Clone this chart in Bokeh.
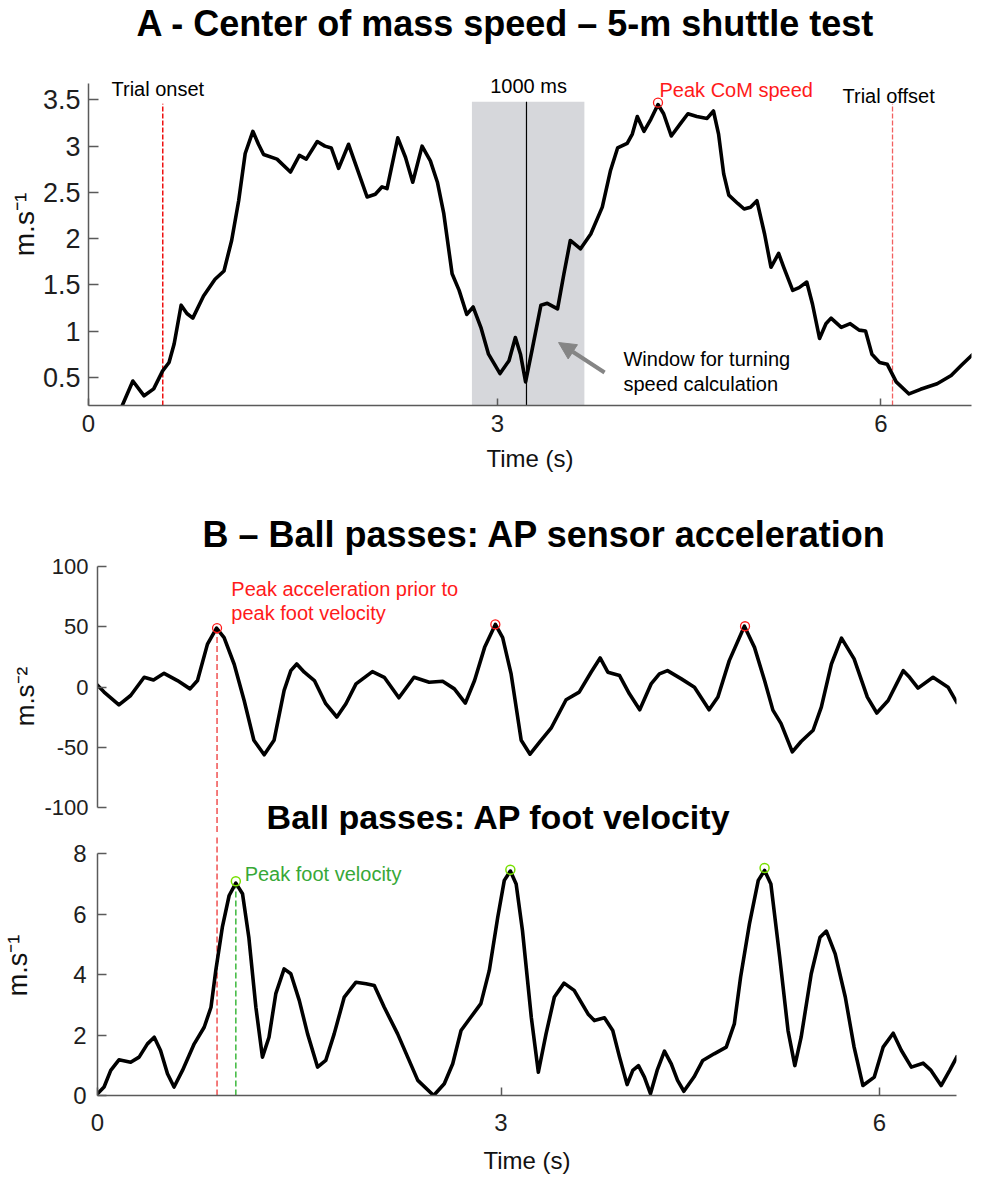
from bokeh.plotting import figure
from bokeh.layouts import column
from bokeh.models import Range1d, FixedTicker, Label, Arrow, NormalHead
from bokeh.embed import file_html
from bokeh.resources import INLINE

FONT = "Liberation Sans"
AX = "#5a5a5a"

# ---------------- data: panel A (centre of mass speed) ----------------
com_t = [0.05, 0.147, 0.235, 0.31, 0.38, 0.43, 0.47, 0.525, 0.57, 0.616, 0.70, 0.79, 0.86, 0.92,
         0.975, 1.026, 1.086, 1.13, 1.17, 1.275, 1.38, 1.45, 1.504, 1.59, 1.65, 1.70, 1.757, 1.835,
         1.888, 1.98, 2.044, 2.097, 2.136, 2.22, 2.28, 2.337, 2.41, 2.475, 2.53, 2.58, 2.645, 2.70,
         2.76, 2.81, 2.87, 2.93, 3.02, 3.09, 3.14, 3.18, 3.22, 3.27, 3.34, 3.39, 3.47, 3.52, 3.57,
         3.65, 3.73, 3.82, 3.885, 3.94, 4.015, 4.055, 4.094, 4.146, 4.2, 4.256, 4.30, 4.36, 4.43,
         4.49, 4.56, 4.64, 4.69, 4.73, 4.77, 4.81, 4.88, 4.93, 4.98, 5.03, 5.09, 5.14, 5.20, 5.24,
         5.31, 5.36, 5.42, 5.465, 5.52, 5.57, 5.61, 5.69, 5.76, 5.83, 5.88, 5.93, 5.99, 6.05, 6.12,
         6.22, 6.31, 6.44, 6.55, 6.63, 6.72]
com_v = [0.15, 0.46, 0.30, 0.375, 0.57, 0.66, 0.86, 1.28, 1.19, 1.14, 1.38, 1.56, 1.65, 1.98,
         2.41, 2.92, 3.16, 3.02, 2.91, 2.86, 2.72, 2.90, 2.86, 3.05, 3.00, 2.98, 2.76, 3.02,
         2.81, 2.45, 2.48, 2.56, 2.54, 3.09, 2.88, 2.61, 3.00, 2.84, 2.61, 2.27, 1.62, 1.44,
         1.18, 1.26, 1.04, 0.75, 0.54, 0.68, 0.93, 0.75, 0.45, 0.79, 1.28, 1.30, 1.24, 1.62, 1.98,
         1.89, 2.05, 2.34, 2.74, 2.98, 3.03, 3.13, 3.32, 3.16, 3.29, 3.45, 3.35, 3.11, 3.24,
         3.35, 3.32, 3.30, 3.38, 3.13, 2.70, 2.47, 2.38, 2.32, 2.34, 2.41, 2.05, 1.69, 1.84, 1.69,
         1.44, 1.47, 1.53, 1.29, 0.92, 1.08, 1.14, 1.04, 1.08, 1.01, 1.00, 0.75, 0.66, 0.64, 0.45,
         0.32, 0.37, 0.43, 0.52, 0.63, 0.75]
com_peak_t = [4.256]
com_peak_v = [3.47]
trial_onset_t = 0.381
trial_offset_t = 6.091
window_start = 2.80
window_end = 3.68
window_top = 3.48
turn_t = 3.227

# ---------------- data: panel B (AP sensor acceleration) ----------------
acc_t = [-0.206, -0.148, -0.03, 0.063, 0.17, 0.244, 0.328, 0.434, 0.534, 0.593, 0.672, 0.744,
         0.804, 0.884, 0.963, 1.04, 1.122, 1.20, 1.28, 1.333, 1.38, 1.44, 1.52, 1.61, 1.698, 1.77,
         1.85, 1.98, 2.074, 2.19, 2.31, 2.43, 2.537, 2.63, 2.717, 2.79, 2.87, 2.955, 3.013, 3.08,
         3.16, 3.23, 3.317, 3.397, 3.516, 3.62, 3.714, 3.786, 3.847, 3.94, 4.018, 4.10, 4.19,
         4.256, 4.32, 4.43, 4.534, 4.65, 4.72, 4.81, 4.93, 5.01, 5.09, 5.156, 5.22, 5.31, 5.38,
         5.475, 5.54, 5.62, 5.70, 5.80, 5.905, 5.98, 6.07, 6.19, 6.24, 6.307, 6.426, 6.545, 6.62]
acc_v = [2.2, -4.0, -14.6, -6.9, 8.2, 6.0, 11.5, 5.5, -1.4, 5.5, 35.7, 48.9,
         41.0, 19.0, -11.0, -44.0, -56.0, -44.0, -2.7, 13.7, 19.2, 12.4, 5.5, -13.7, -24.7, -13.7,
         2.7, 12.9, 8.2, -8.8, 8.2, 4.1, 4.9, -1.4, -13.2, 5.5, 33.0, 52.0, 41.0, 11.0,
         -44.0, -55.5, -44.0, -34.0, -10.4, -4.1, 12.4, 24.2, 12.4, 9.6, -5.5, -18.7, 2.7,
         11.0, 13.7, 6.9, 0.0, -18.7, -8.2, 22.0, 50.5, 33.0, 5.5, -19.0, -30.0, -53.6, -45.0,
         -35.7, -16.5, 19.2, 40.7, 23.4, -8.2, -21.4, -11.0, 13.7, 8.2, -0.8, 8.2, 0.0, -13.7]
acc_peak_t = [0.748, 2.955, 4.935]
acc_peak_v = [49.0, 52.0, 50.5]

# ---------------- data: panel B (AP foot velocity) ----------------
vel_t = [-0.206, -0.148, -0.095, -0.03, 0.063, 0.13, 0.196, 0.25, 0.30, 0.355, 0.407, 0.474,
         0.567, 0.646, 0.70, 0.738, 0.79, 0.844, 0.897, 0.95, 1.0, 1.056, 1.108, 1.16, 1.214,
         1.28, 1.333, 1.40, 1.466, 1.545, 1.61, 1.677, 1.757, 1.85, 1.93, 1.995, 2.074, 2.18,
         2.26, 2.34, 2.466, 2.55, 2.617, 2.683, 2.76, 2.84, 2.907, 2.974, 3.026, 3.074, 3.12,
         3.17, 3.24, 3.296, 3.357, 3.423, 3.50, 3.58, 3.69, 3.74, 3.82, 3.886, 3.94, 4.0, 4.045,
         4.09, 4.137, 4.185, 4.238, 4.296, 4.35, 4.40, 4.45, 4.53, 4.60, 4.69, 4.786, 4.85, 4.90,
         4.97, 5.04, 5.09, 5.14, 5.21, 5.276, 5.33, 5.38, 5.46, 5.53, 5.58, 5.65, 5.73, 5.80,
         5.87, 5.96, 6.03, 6.11, 6.175, 6.254, 6.347, 6.41, 6.49, 6.56, 6.62]
vel_v = [0.03, 0.28, 0.83, 1.18, 1.10, 1.27, 1.71, 1.93, 1.49, 0.72, 0.28, 0.83,
         1.71, 2.26, 2.92, 4.14, 5.57, 6.62, 7.03, 6.68, 5.24, 2.92, 1.27, 1.93, 3.37,
         4.19, 4.03, 3.15, 2.04, 0.94, 1.16, 2.04, 3.26, 3.75, 3.70, 3.64, 2.92, 2.04,
         1.27, 0.50, 0.0, 0.39, 1.05, 2.15, 2.59, 3.04, 4.14, 5.90, 7.12, 7.43, 7.00,
         5.46, 2.59, 0.77, 2.04, 3.26, 3.72, 3.48, 2.70, 2.48, 2.57, 2.15, 1.27, 0.36, 0.83,
         0.99, 0.61, 0.06, 0.83, 1.47, 1.05, 0.50, 0.14, 0.61, 1.16, 1.38, 1.60, 2.37, 3.92,
         5.68, 7.12, 7.45, 7.00, 4.58, 2.15, 0.99, 1.93, 4.03, 5.24, 5.44, 4.69, 3.26, 1.60,
         0.33, 0.61, 1.60, 2.06, 1.49, 0.94, 1.07, 0.83, 0.33, 0.85, 1.32]
vel_peak_t = [0.897, 3.074, 5.09]
vel_peak_v = [7.09, 7.47, 7.53]

# ---------------- axes ticks ----------------
x_ticks = [-0.2, 3, 6]
x_tick_labels = ["0", "3", "6"]
com_ticks = [0.5, 1, 1.5, 2, 2.5, 3, 3.5]
acc_ticks = [-100, -50, 0, 50, 100]
vel_ticks = [0, 2, 4, 6, 8]


def style(p):
    p.outline_line_color = None
    p.grid.visible = False
    p.background_fill_color = "white"
    p.border_fill_color = "white"
    for ax in p.axis:
        ax.axis_line_color = AX
        ax.axis_line_width = 1.5
        ax.major_tick_line_color = AX
        ax.major_tick_line_width = 1.5
        ax.minor_tick_line_color = None
        ax.major_tick_out = 0
        ax.major_label_text_font = FONT
        ax.major_label_text_color = "#1e1e1e"
        ax.axis_label_text_font = FONT
        ax.axis_label_text_font_style = "normal"
        ax.axis_label_text_color = "#111111"


def set_title(p, text, size, offset, standoff):
    p.title.text = text
    p.title.text_font = FONT
    p.title.text_font_size = size
    p.title.text_font_style = "bold"
    p.title.text_color = "black"
    p.title.align = "left"
    p.title.offset = offset
    p.title.standoff = standoff


def set_xaxis(p, tick_in, standoff, label_standoff):
    ax = p.xaxis[0]
    ax.ticker = FixedTicker(ticks=x_ticks)
    ax.major_label_overrides = dict(zip(x_ticks, x_tick_labels))
    ax.major_tick_in = tick_in
    ax.major_label_standoff = standoff
    ax.major_label_text_font_size = "24px"
    ax.axis_label = "Time (s)"
    ax.axis_label_text_font_size = "24px"
    ax.axis_label_standoff = label_standoff


def note(p, txt, x, y, color="black", size="20px", align="left", bold=False):
    p.add_layout(Label(x=x, y=y, text=txt, text_align=align, text_baseline="middle",
                       text_font=FONT, text_font_size=size, text_color=color,
                       text_font_style="bold" if bold else "normal"))


# ================= Panel A =================
pA = figure(width=985, height=480, output_backend="svg", toolbar_location=None,
            x_range=Range1d(-0.2, 6.709), y_range=Range1d(0.195, 4.110),
            min_border_left=88, min_border_right=14, min_border_top=43, min_border_bottom=75)
set_title(pA, "A - Center of mass speed \u2013 5-m shuttle test", "36px", 48, 0)

ybot = pA.y_range.start
pA.quad(left=[window_start], right=[window_end], bottom=[ybot], top=[window_top],
        fill_color="#d6d7db", line_color=None)
pA.segment(x0=[turn_t], y0=[ybot], x1=[turn_t], y1=[window_top], line_color="black", line_width=1.2)
pA.segment(x0=[trial_onset_t], y0=[ybot], x1=[trial_onset_t], y1=[3.458],
           line_color="#ee1111", line_width=1.5, line_dash="5 2")
pA.segment(x0=[trial_offset_t], y0=[ybot], x1=[trial_offset_t], y1=[3.458],
           line_color="#f26060", line_width=1.3, line_dash="5 2")
pA.line(com_t, com_v, line_color="black", line_width=3.6, line_join="round")
pA.scatter(com_peak_t, com_peak_v, marker="circle", size=9, fill_color=None,
           line_color="#ff1a1a", line_width=1.3)

pA.add_layout(Arrow(end=NormalHead(size=17, fill_color="#858585", line_color="#858585"),
                    x_start=3.838, y_start=0.552, x_end=3.478, y_end=0.876,
                    line_color="#858585", line_width=4))

note(pA, "Trial onset", -0.02, 3.623)
note(pA, "1000 ms", 3.243, 3.652, align="center")
note(pA, "Peak CoM speed", 4.268, 3.605, color="#ff1a1a")
note(pA, "Trial offset", 5.70, 3.547)
note(pA, "Window for turning", 3.986, 0.700)
note(pA, "speed calculation", 3.986, 0.430)

style(pA)
set_xaxis(pA, 7, 9, 10)
ya = pA.yaxis[0]
ya.ticker = FixedTicker(ticks=com_ticks)
ya.major_label_overrides = {t: f"{t:g}" for t in com_ticks}
ya.bounds = (0.195, 3.68)
ya.major_tick_in = 10
ya.major_label_standoff = 8
ya.major_label_text_font_size = "27px"
ya.axis_label = "m.s\u207b\u00b9"
ya.axis_label_text_font_size = "28px"
ya.axis_label_standoff = 0

# ================= Panel B: acceleration =================
xB = Range1d(-0.2, 6.612)
pB1 = figure(width=976, height=355, output_backend="svg", toolbar_location=None,
             x_range=xB, y_range=Range1d(-122.9, 107.46), x_axis_location=None,
             min_border_left=96, min_border_right=20, min_border_top=77, min_border_bottom=0)
set_title(pB1, "B \u2013 Ball passes: AP sensor acceleration", "36px", 105, 5)

pB1.segment(x0=[acc_peak_t[0]], y0=[acc_peak_v[0]], x1=[acc_peak_t[0]], y1=[pB1.y_range.start],
            line_color="#f05050", line_width=1.5, line_dash="6 3")
pB1.line(acc_t, acc_v, line_color="black", line_width=3.6, line_join="round")
pB1.scatter(acc_peak_t, acc_peak_v, marker="circle", size=9, fill_color=None,
            line_color="#ff1a1a", line_width=1.3)
note(pB1, "Peak acceleration prior to", 0.861, 81.5, color="#ff1a1a")
note(pB1, "peak foot velocity", 0.861, 61.1, color="#ff1a1a")
note(pB1, "Ball passes: AP foot velocity", 2.984, -107.6, size="34px", align="center", bold=True)

style(pB1)
yb = pB1.yaxis[0]
yb.ticker = FixedTicker(ticks=acc_ticks)
yb.major_label_overrides = {t: str(t) for t in acc_ticks}
yb.bounds = (-100, 100)
yb.major_tick_in = 9
yb.major_label_standoff = 9
yb.major_label_text_font_size = "22px"
yb.axis_label = "m.s\u207b\u00b2"
yb.axis_label_text_font_size = "26px"
yb.axis_label_standoff = 1

# ================= Panel B: velocity =================
pB2 = figure(width=976, height=343, output_backend="svg", toolbar_location=None, title=None,
             x_range=xB, y_range=Range1d(0, 8.606),
             min_border_left=96, min_border_right=20, min_border_top=0, min_border_bottom=83)
pB2.segment(x0=[acc_peak_t[0]], y0=[0], x1=[acc_peak_t[0]], y1=[pB2.y_range.end],
            line_color="#f05050", line_width=1.5, line_dash="6 3")
pB2.segment(x0=[vel_peak_t[0]], y0=[0], x1=[vel_peak_t[0]], y1=[vel_peak_v[0]],
            line_color="#3cb83c", line_width=1.5, line_dash="6 3")
pB2.line(vel_t, vel_v, line_color="black", line_width=3.6, line_join="round")
pB2.scatter(vel_peak_t, vel_peak_v, marker="circle", size=9, fill_color=None,
            line_color="#77e000", line_width=1.5)
note(pB2, "Peak foot velocity", 0.967, 7.33, color="#37a837")

style(pB2)
set_xaxis(pB2, 8, 18, 13)
yv = pB2.yaxis[0]
yv.ticker = FixedTicker(ticks=vel_ticks)
yv.bounds = (0, 8)
yv.major_tick_in = 9
yv.major_label_standoff = 11
yv.major_label_text_font_size = "24px"
yv.axis_label = "m.s\u207b\u00b9"
yv.axis_label_text_font_size = "27px"
yv.axis_label_standoff = 37

colB = column(pB1, pB2)
open("out.html", "w").write(file_html([pA, colB], INLINE))
